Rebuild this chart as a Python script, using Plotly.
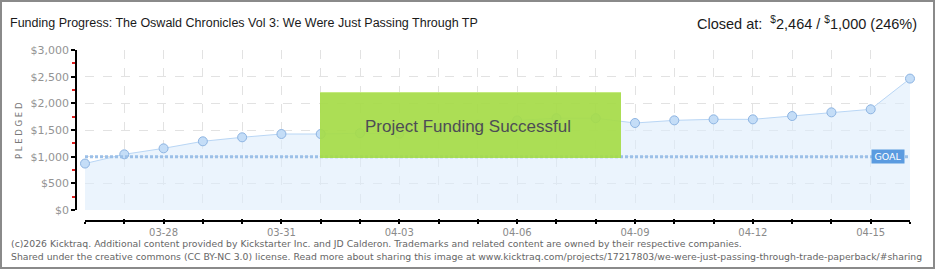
import plotly.graph_objects as go

# ---- data ----
dates = ["03-26", "03-27", "03-28", "03-29", "03-30", "03-31", "04-01", "04-02",
         "04-03", "04-04", "04-05", "04-06", "04-07", "04-08", "04-09", "04-10",
         "04-11", "04-12", "04-13", "04-14", "04-15", "04-16"]
pledged = [871, 1044, 1156, 1288, 1363, 1425, 1425, 1440,
           1430, 1520, 1600, 1680, 1722, 1722, 1631, 1681,
           1700, 1700, 1762, 1831, 1888, 2464]
goal = 1000
labelled_dates = ["03-28", "03-31", "04-03", "04-06", "04-09", "04-12", "04-15"]
y_ticks = [0, 500, 1000, 1500, 2000, 2500, 3000]
y_labels = ["$0", "$500", "$1,000", "$1,500", "$2,000", "$2,500", "$3,000"]
title = "Funding Progress: The Oswald Chronicles Vol 3: We Were Just Passing Through TP"
closed_amount = 2464
closed_pct = 246
footer1 = ("(c)2026 Kicktraq. Additional content provided by Kickstarter Inc. and JD Calderon. "
           "Trademarks and related content are owned by their respective companies.")
footer2 = ("Shared under the creative commons (CC BY-NC 3.0) license. Read more about sharing this image at "
           "www.kicktraq.com/projects/17217803/we-were-just-passing-through-trade-paperback/#sharing")

W, H = 940, 270
ML, MR, MT, MB = 76, 30, 50, 49
PW = W - ML - MR
PH = H - MT - MB


def px(x):
    return (x - ML) / PW


def py(y):
    return (H - MB - y) / PH


TECH = "Liberation Sans, Arial, sans-serif"
SMALL = "DejaVu Sans, Verdana, sans-serif"

fig = go.Figure()
fig.add_trace(go.Scatter(
    x=dates, y=pledged, mode="lines+markers",
    fill="tozeroy", fillcolor="rgba(222,236,252,0.6)",
    line=dict(color="#b9d6f5", width=1),
    marker=dict(size=9, color="#c4ddf7", line=dict(color="#8db4e2", width=1)),
    cliponaxis=False, hoverinfo="skip", showlegend=False,
))
# overlay axis for crossing ticks
fig.add_trace(go.Scatter(x=dates, y=[None] * len(dates), xaxis="x2", showlegend=False,
                         hoverinfo="skip"))

ticktext = [d if d in labelled_dates else "" for d in dates]

grid = dict(showgrid=True, gridcolor="#e2e2e2", griddash="dash", gridwidth=1)
fig.update_layout(
    width=W, height=H,
    margin=dict(l=ML, r=MR, t=MT, b=MB),
    paper_bgcolor="white", plot_bgcolor="white",
    xaxis=dict(
        type="category", range=[0, len(dates) - 1], domain=[px(85), 1],
        anchor="free", position=0,
        tickmode="array", tickvals=dates, ticktext=ticktext,
        ticks="outside", ticklen=2, tickcolor="black", tickwidth=1.5,
        showline=True, linecolor="black", linewidth=1.5,
        tickfont=dict(family=SMALL, size=10, color="#8a8a8a"),
        zeroline=False, **grid,
    ),
    xaxis2=dict(
        type="category", range=[0, len(dates) - 1], domain=[px(85), 1],
        overlaying="x", anchor="free", position=0, matches="x",
        tickmode="array", tickvals=dates, showticklabels=False,
        ticks="inside", ticklen=2, tickcolor="black", tickwidth=1.5,
        showgrid=False, showline=False, zeroline=False,
    ),
    yaxis=dict(
        range=[0, 3000], domain=[py(210), 1],
        anchor="free", position=0,
        tickmode="array", tickvals=y_ticks, ticktext=y_labels,
        ticks="outside", ticklen=4, tickcolor="black", tickwidth=1.5,
        showline=True, linecolor="black", linewidth=1.5,
        tickfont=dict(family=SMALL, size=11, color="#939393"),
        minor=dict(tickvals=[250, 750, 1250, 1750, 2250, 2750], ticks="outside",
                   ticklen=3, tickcolor="#e02020", tickwidth=1.5, showgrid=False),
        zeroline=False, **grid,
    ),
    showlegend=False,
)

shapes = []
# goal line
shapes.append(dict(type="line", xref="paper", yref="y", x0=px(85), x1=1, y0=goal, y1=goal,
                   line=dict(color="#9cc0e8", width=3, dash="3px,2px"), layer="above"))
# success box
shapes.append(dict(type="rect", xref="paper", yref="paper",
                   x0=px(320), x1=px(621), y0=py(158), y1=py(92),
                   fillcolor="rgba(166,220,72,0.93)", line=dict(width=0), layer="above"))
shapes.append(dict(type="line", xref="paper", yref="paper",
                   x0=px(320), x1=px(621), y0=py(92.5), y1=py(92.5),
                   line=dict(color="#c4ea80", width=1), layer="above"))
# outer frame
shapes.append(dict(type="rect", xref="paper", yref="paper",
                   x0=px(1), x1=px(934), y0=py(268), y1=py(1),
                   line=dict(color="#8a8a8a", width=2), fillcolor="rgba(0,0,0,0)", layer="above"))
fig.update_layout(shapes=shapes)

ann = []
ann.append(dict(text="Project Funding Successful", xref="paper", yref="paper",
                x=px(468), y=py(126), showarrow=False, xanchor="center", yanchor="middle",
                font=dict(family=TECH, size=17, color="#4d4d55")))
ann.append(dict(text="GOAL", xref="paper", yref="y", x=px(887.5), y=goal, showarrow=False,
                xanchor="center", yanchor="middle", width=30, height=11,
                bgcolor="#5b9be0", borderpad=1, font=dict(family=SMALL, size=9.5, color="white")))
ann.append(dict(text=title, xref="paper", yref="paper", x=px(8), y=py(23),
                xanchor="left", yanchor="middle", showarrow=False,
                font=dict(family=TECH, size=12.5, color="#1a1a1a")))
ann.append(dict(text=f"Closed at:  <sup>$</sup>{closed_amount:,} / <sup>$</sup>{goal:,} ({closed_pct}%)",
                xref="paper", yref="paper", x=px(919), y=py(23),
                xanchor="right", yanchor="middle", showarrow=False,
                font=dict(family=TECH, size=14.5, color="#1a1a1a")))
ann.append(dict(text="P L E D G E D", xref="paper", yref="paper", x=px(19), y=py(130),
                textangle=-90, showarrow=False, xanchor="center", yanchor="middle",
                font=dict(family=SMALL, size=8.5, color="#777")))
ann.append(dict(text=footer1, xref="paper", yref="paper", x=px(9), y=py(243),
                xanchor="left", yanchor="middle", showarrow=False,
                font=dict(family=SMALL, size=9.3, color="#666")))
ann.append(dict(text=footer2, xref="paper", yref="paper", x=px(9), y=py(256),
                xanchor="left", yanchor="middle", showarrow=False,
                font=dict(family=SMALL, size=9.3, color="#666")))
fig.update_layout(annotations=ann)

fig.write_html("out.html")
